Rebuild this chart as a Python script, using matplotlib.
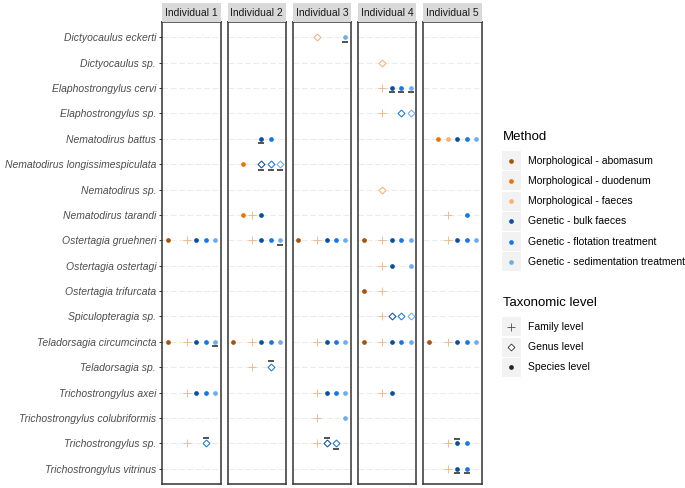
import matplotlib
matplotlib.use("Agg")
import matplotlib.pyplot as plt
from matplotlib.patches import Rectangle

plt.rcParams['font.family'] = ['Liberation Sans', 'DejaVu Sans']

species = [
    "Dictyocaulus eckerti", "Dictyocaulus sp.", "Elaphostrongylus cervi",
    "Elaphostrongylus sp.", "Nematodirus battus",
    "Nematodirus longissimespiculata", "Nematodirus sp.", "Nematodirus tarandi",
    "Ostertagia gruehneri", "Ostertagia ostertagi", "Ostertagia trifurcata",
    "Spiculopteragia sp.", "Teladorsagia circumcincta", "Teladorsagia sp.",
    "Trichostrongylus axei", "Trichostrongylus colubriformis",
    "Trichostrongylus sp.", "Trichostrongylus vitrinus",
]
methods = [
    "Morphological - abomasum", "Morphological - duodenum",
    "Morphological - faeces", "Genetic - bulk faeces",
    "Genetic - flotation treatment", "Genetic - sedimentation treatment",
]
method_colors = ["#A6540C", "#E8740C", "#F4B27A", "#0A4F9E", "#1577E4", "#6EAEF0"]
levels = ["Family level", "Genus level", "Species level"]
individuals = ["Individual 1", "Individual 2", "Individual 3", "Individual 4", "Individual 5"]

# (species, method index, level F/G/S, mark: 'u' underline, 'o' overline)
ind1 = [
    ("Ostertagia gruehneri", 0, "S", ""), ("Ostertagia gruehneri", 2, "F", ""),
    ("Ostertagia gruehneri", 3, "S", ""), ("Ostertagia gruehneri", 4, "S", ""),
    ("Ostertagia gruehneri", 5, "S", ""),
    ("Teladorsagia circumcincta", 0, "S", ""), ("Teladorsagia circumcincta", 2, "F", ""),
    ("Teladorsagia circumcincta", 3, "S", ""), ("Teladorsagia circumcincta", 4, "S", ""),
    ("Teladorsagia circumcincta", 5, "S", "u"),
    ("Trichostrongylus axei", 2, "F", ""), ("Trichostrongylus axei", 3, "S", ""),
    ("Trichostrongylus axei", 4, "S", ""), ("Trichostrongylus axei", 5, "S", ""),
    ("Trichostrongylus sp.", 2, "F", ""), ("Trichostrongylus sp.", 4, "G", "o"),
]
ind2 = [
    ("Nematodirus battus", 3, "S", "u"), ("Nematodirus battus", 4, "S", ""),
    ("Nematodirus longissimespiculata", 1, "S", ""),
    ("Nematodirus longissimespiculata", 3, "G", "u"),
    ("Nematodirus longissimespiculata", 4, "G", "u"),
    ("Nematodirus longissimespiculata", 5, "G", "u"),
    ("Nematodirus tarandi", 1, "S", ""), ("Nematodirus tarandi", 2, "F", ""),
    ("Nematodirus tarandi", 3, "S", ""),
    ("Ostertagia gruehneri", 2, "F", ""), ("Ostertagia gruehneri", 3, "S", ""),
    ("Ostertagia gruehneri", 4, "S", ""), ("Ostertagia gruehneri", 5, "S", "u"),
    ("Teladorsagia circumcincta", 0, "S", ""), ("Teladorsagia circumcincta", 2, "F", ""),
    ("Teladorsagia circumcincta", 3, "S", ""), ("Teladorsagia circumcincta", 4, "S", ""),
    ("Teladorsagia circumcincta", 5, "S", ""),
    ("Teladorsagia sp.", 2, "F", ""), ("Teladorsagia sp.", 4, "G", "o"),
]
ind3 = [
    ("Dictyocaulus eckerti", 2, "G", ""), ("Dictyocaulus eckerti", 5, "S", "u"),
    ("Ostertagia gruehneri", 0, "S", ""), ("Ostertagia gruehneri", 2, "F", ""),
    ("Ostertagia gruehneri", 3, "S", ""), ("Ostertagia gruehneri", 4, "S", ""),
    ("Ostertagia gruehneri", 5, "S", ""),
    ("Teladorsagia circumcincta", 2, "F", ""), ("Teladorsagia circumcincta", 3, "S", ""),
    ("Teladorsagia circumcincta", 4, "S", ""), ("Teladorsagia circumcincta", 5, "S", ""),
    ("Trichostrongylus axei", 2, "F", ""), ("Trichostrongylus axei", 3, "S", ""),
    ("Trichostrongylus axei", 4, "S", ""), ("Trichostrongylus axei", 5, "S", ""),
    ("Trichostrongylus colubriformis", 2, "F", ""),
    ("Trichostrongylus colubriformis", 5, "S", ""),
    ("Trichostrongylus sp.", 2, "F", ""), ("Trichostrongylus sp.", 3, "G", "o"),
    ("Trichostrongylus sp.", 4, "G", "u"),
]
ind4 = [
    ("Dictyocaulus sp.", 2, "G", ""),
    ("Elaphostrongylus cervi", 2, "F", ""), ("Elaphostrongylus cervi", 3, "S", "u"),
    ("Elaphostrongylus cervi", 4, "S", "u"), ("Elaphostrongylus cervi", 5, "S", "u"),
    ("Elaphostrongylus sp.", 2, "F", ""), ("Elaphostrongylus sp.", 4, "G", ""),
    ("Elaphostrongylus sp.", 5, "G", ""),
    ("Nematodirus sp.", 2, "G", ""),
    ("Ostertagia gruehneri", 0, "S", ""), ("Ostertagia gruehneri", 2, "F", ""),
    ("Ostertagia gruehneri", 3, "S", ""), ("Ostertagia gruehneri", 4, "S", ""),
    ("Ostertagia gruehneri", 5, "S", ""),
    ("Ostertagia ostertagi", 2, "F", ""), ("Ostertagia ostertagi", 3, "S", ""),
    ("Ostertagia ostertagi", 5, "S", ""),
    ("Ostertagia trifurcata", 0, "S", ""), ("Ostertagia trifurcata", 2, "F", ""),
    ("Spiculopteragia sp.", 2, "F", ""), ("Spiculopteragia sp.", 3, "G", ""),
    ("Spiculopteragia sp.", 4, "G", ""), ("Spiculopteragia sp.", 5, "G", ""),
    ("Teladorsagia circumcincta", 0, "S", ""), ("Teladorsagia circumcincta", 2, "F", ""),
    ("Teladorsagia circumcincta", 3, "S", ""), ("Teladorsagia circumcincta", 4, "S", ""),
    ("Teladorsagia circumcincta", 5, "S", ""),
    ("Trichostrongylus axei", 2, "F", ""), ("Trichostrongylus axei", 3, "S", ""),
]
ind5 = [
    ("Nematodirus battus", 1, "S", ""), ("Nematodirus battus", 2, "S", ""),
    ("Nematodirus battus", 3, "S", ""), ("Nematodirus battus", 4, "S", ""),
    ("Nematodirus battus", 5, "S", ""),
    ("Nematodirus tarandi", 2, "F", ""), ("Nematodirus tarandi", 4, "S", ""),
    ("Ostertagia gruehneri", 2, "F", ""), ("Ostertagia gruehneri", 3, "S", ""),
    ("Ostertagia gruehneri", 4, "S", ""), ("Ostertagia gruehneri", 5, "S", ""),
    ("Teladorsagia circumcincta", 0, "S", ""), ("Teladorsagia circumcincta", 2, "F", ""),
    ("Teladorsagia circumcincta", 3, "S", ""), ("Teladorsagia circumcincta", 4, "S", ""),
    ("Teladorsagia circumcincta", 5, "S", ""),
    ("Trichostrongylus sp.", 2, "F", ""), ("Trichostrongylus sp.", 3, "S", "o"),
    ("Trichostrongylus sp.", 4, "S", ""),
    ("Trichostrongylus vitrinus", 2, "F", ""), ("Trichostrongylus vitrinus", 3, "S", "u"),
    ("Trichostrongylus vitrinus", 4, "S", "u"),
]
records = [ind1, ind2, ind3, ind4, ind5]

W, H = 685, 488
fig = plt.figure(figsize=(W / 100, H / 100), dpi=100)


def px(l, t, w, h):
    return [l / W, 1 - (t + h) / H, w / W, h / H]


def draw_point(ax, x, y, lvl, col, mew_g=0.75):
    if lvl == "F":
        ax.plot(x, y, marker="+", ms=6, mew=0.6, color=col, zorder=3)
    elif lvl == "G":
        ax.plot(x, y, marker="D", ms=3.5, mfc="white", mec=col, mew=mew_g, zorder=3)
    else:
        ax.plot(x, y, marker="o", ms=3.4, color=col, mec="none", zorder=3)


for i, name in enumerate(individuals):
    left = 162.3 + i * 65.25
    ax = fig.add_axes(px(left, 22, 58.3, 462))
    ax.set_xlim(0.4, 6.6)
    ax.set_ylim(len(species) - 0.4, -0.6)
    ax.set_yticks(range(len(species)))
    ax.set_xticks([])
    ax.grid(axis="y", color="#E8E8E8", lw=0.6, linestyle=(0, (7, 3)))
    ax.set_axisbelow(True)
    for s in ax.spines.values():
        s.set_color("#333333")
        s.set_linewidth(1.1)
    if i == 0:
        ax.set_yticklabels(species, fontsize=7.5, style="italic", color="#4D4D4D")
        ax.tick_params(axis="y", length=2.5, width=0.7, color="#333333", pad=2)
    else:
        ax.set_yticklabels([])
        ax.tick_params(axis="y", length=0)

    for sp, m, lvl, mark in records[i]:
        y = species.index(sp)
        x = m + 1
        draw_point(ax, x, y, lvl, method_colors[m])
        if mark:
            off = 0.23 if lvl == "G" else 0.17
            yy = y + off if mark == "u" else y - off
            ax.plot(x, yy, marker="_", ms=4.5, mew=1.2, color="#333333", zorder=3)

    sax = fig.add_axes(px(left, 3, 58.3, 19))
    sax.set_xlim(0, 1)
    sax.set_ylim(0, 1)
    sax.axis("off")
    sax.add_patch(Rectangle((0, 0), 1, 1, facecolor="#D9D9D9", edgecolor="none"))
    sax.text(0.5, 0.5, name, ha="center", va="center", fontsize=7.5, color="#1A1A1A")

# legend drawn in pixel space
lax = fig.add_axes([0, 0, 1, 1], facecolor="none")
lax.set_xlim(0, W)
lax.set_ylim(H, 0)
lax.axis("off")

lax.text(503, 137, "Method", fontsize=9.5, va="center", ha="left", color="black")
for j, (lab, col) in enumerate(zip(methods, method_colors)):
    cy = 160.7 + j * 20.25
    lax.add_patch(Rectangle((501.7, cy - 9.5), 19, 19, facecolor="#F2F2F2", edgecolor="none"))
    lax.plot(511.2, cy, marker="o", ms=3.4, color=col, mec="none")
    lax.text(528, cy, lab, fontsize=7.5, va="center", ha="left", color="black")

lax.text(503, 303.5, "Taxonomic level", fontsize=9.5, va="center", ha="left", color="black")
for j, (lab, lvl) in enumerate(zip(levels, ["F", "G", "S"])):
    cy = 326.7 + j * 20.3
    lax.add_patch(Rectangle((501.7, cy - 9.5), 19, 19, facecolor="#F2F2F2", edgecolor="none"))
    draw_point(lax, 511.2, cy, lvl, "#4D4D4D" if lvl == "F" else "#222222", mew_g=0.55)
    lax.text(528, cy, lab, fontsize=7.5, va="center", ha="left", color="black")

fig.savefig("out.png", dpi=100)
